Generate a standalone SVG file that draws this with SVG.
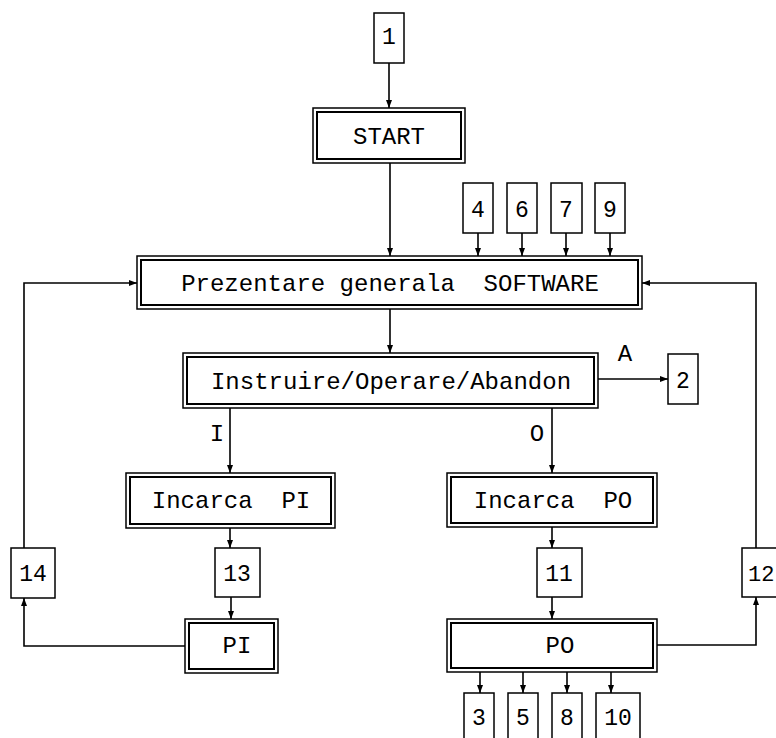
<svg xmlns="http://www.w3.org/2000/svg" width="776" height="738" viewBox="0 0 776 738">
  <style>
    .outer { fill: #fff; stroke: #000; stroke-width: 1.5; }
    .inner { fill: none; stroke: #000; stroke-width: 2; }
    .box { fill: #fff; stroke: #000; stroke-width: 1.5; }
    .t { font-family: "Liberation Mono", "DejaVu Sans Mono", monospace; font-size: 24px; fill: #000; text-anchor: middle; }
    .n { font-family: "Liberation Mono", "DejaVu Sans Mono", monospace; font-size: 23px; fill: #000; text-anchor: middle; }
    .wire { fill: none; stroke: #000; stroke-width: 1.6; }
  </style>
  <defs>
    <marker id="arr" viewBox="0 0 8 6" refX="8" refY="3" markerWidth="8" markerHeight="6" markerUnits="userSpaceOnUse" orient="auto">
      <path d="M0,0 L8,3 L0,6 Z" fill="#000"/>
    </marker>
  </defs>

  <rect width="776" height="738" fill="#fff"/>

  <!-- connectors -->
  <g id="connectors" class="wire" marker-end="url(#arr)">
    <path d="M389,63 V108"/>
    <path d="M390,163 V256"/>
    <path d="M478,233 V256"/>
    <path d="M522,233 V256"/>
    <path d="M566,233 V256"/>
    <path d="M610,233 V256"/>
    <path d="M390,309 V353"/>
    <path d="M598,379 H668"/>
    <path d="M230,408 V473"/>
    <path d="M552,408 V473"/>
    <path d="M230,528 V548"/>
    <path d="M231,597 V619"/>
    <path d="M552,527 V548"/>
    <path d="M552,597 V619"/>
    <path d="M185,646 H24 V598"/>
    <path d="M24,548 V283 H137"/>
    <path d="M657,645 H756 V597"/>
    <path d="M756,548 V283 H642"/>
    <path d="M480,672 V693"/>
    <path d="M523,672 V693"/>
    <path d="M567,672 V693"/>
    <path d="M611,672 V693"/>
  </g>

  <!-- branch labels -->
  <g id="labels">
    <text class="t" x="217" y="441">I</text>
    <text class="t" x="537" y="441">O</text>
    <text class="t" x="625" y="361">A</text>
  </g>

  <!-- numbered connector boxes -->
  <g id="n1"><rect class="box" x="374" y="13" width="30" height="50"/><text class="n" x="389" y="44">1</text></g>
  <g id="n4"><rect class="box" x="463" y="183" width="30" height="50"/><text class="n" x="478" y="217">4</text></g>
  <g id="n6"><rect class="box" x="507" y="183" width="30" height="50"/><text class="n" x="522" y="217">6</text></g>
  <g id="n7"><rect class="box" x="551" y="183" width="31" height="50"/><text class="n" x="566" y="217">7</text></g>
  <g id="n9"><rect class="box" x="595" y="183" width="30" height="50"/><text class="n" x="610" y="217">9</text></g>
  <g id="n2"><rect class="box" x="668" y="354" width="30" height="50"/><text class="n" x="683" y="388">2</text></g>
  <g id="n14"><rect class="box" x="11" y="548" width="44" height="50"/><text class="n" x="33" y="581">14</text></g>
  <g id="n13"><rect class="box" x="215" y="548" width="45" height="49"/><text class="n" x="237" y="581">13</text></g>
  <g id="n11"><rect class="box" x="537" y="548" width="45" height="49"/><text class="n" x="559" y="581">11</text></g>
  <g id="n12"><rect class="box" x="742" y="548" width="45" height="49"/><text class="n" x="748" y="581" style="text-anchor:start;font-size:22px">12</text></g>
  <g id="n3"><rect class="box" x="464" y="693" width="30" height="60"/><text class="n" x="479" y="725">3</text></g>
  <g id="n5"><rect class="box" x="508" y="693" width="30" height="60"/><text class="n" x="523" y="725">5</text></g>
  <g id="n8"><rect class="box" x="552" y="693" width="30" height="60"/><text class="n" x="567" y="725">8</text></g>
  <g id="n10"><rect class="box" x="596" y="693" width="44" height="60"/><text class="n" x="618" y="725">10</text></g>

  <!-- process blocks (double border) -->
  <g id="start">
    <rect class="outer" x="313" y="108" width="152" height="55"/>
    <rect class="inner" x="317" y="112" width="144" height="47"/>
    <text class="t" x="389" y="144">START</text>
  </g>
  <g id="prezentare">
    <rect class="outer" x="137" y="256" width="505" height="53"/>
    <rect class="inner" x="141" y="260" width="497" height="45"/>
    <text class="t" x="390" y="291" xml:space="preserve">Prezentare generala  SOFTWARE</text>
  </g>
  <g id="instruire">
    <rect class="outer" x="183" y="353" width="415" height="55"/>
    <rect class="inner" x="187" y="357" width="407" height="47"/>
    <text class="t" x="391" y="389">Instruire/Operare/Abandon</text>
  </g>
  <g id="incarca-pi">
    <rect class="outer" x="126" y="473" width="209" height="55"/>
    <rect class="inner" x="130" y="477" width="201" height="47"/>
    <text class="t" x="231" y="508" xml:space="preserve">Incarca  PI</text>
  </g>
  <g id="incarca-po">
    <rect class="outer" x="447" y="473" width="210" height="54"/>
    <rect class="inner" x="451" y="477" width="202" height="46"/>
    <text class="t" x="553" y="508" xml:space="preserve">Incarca  PO</text>
  </g>
  <g id="pi">
    <rect class="outer" x="185" y="619" width="93" height="54"/>
    <rect class="inner" x="189" y="623" width="85" height="46"/>
    <text class="t" x="237" y="653">PI</text>
  </g>
  <g id="po">
    <rect class="outer" x="447" y="619" width="210" height="53"/>
    <rect class="inner" x="451" y="623" width="202" height="45"/>
    <text class="t" x="560" y="653">PO</text>
  </g>
</svg>
